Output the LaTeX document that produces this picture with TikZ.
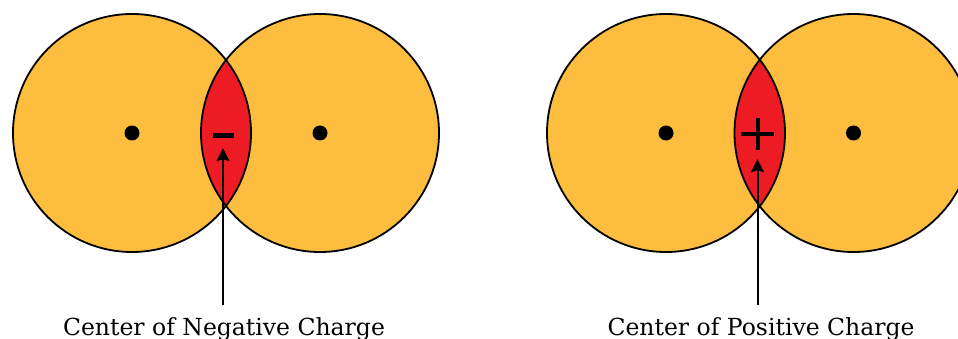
\documentclass[tikz,border=0pt]{standalone}
\usepackage{fontspec}
\setmainfont{DejaVu Serif}
\usetikzlibrary{arrows.meta,positioning}
\definecolor{atomyellow}{RGB}{253,190,64}
\definecolor{lensred}{RGB}{237,28,36}
\begin{document}
\begin{tikzpicture}[
    x=1pt, y=-1pt,
    atom/.style={circle, fill=atomyellow, minimum size=238pt, inner sep=0pt},
    rim/.style={draw, line width=1.8pt},
    nucleus/.style={circle, fill=black, minimum size=15pt, inner sep=0pt},
    sign/.style={inner sep=0pt},
    caption/.style={font=\fontsize{23.5}{28}\selectfont, inner sep=0pt, inner ysep=12pt, anchor=base},
    arrow/.style={-{Stealth[length=13pt,width=13pt,inset=2pt]}, line width=2pt},
    ]
    \useasboundingbox (0,0) rectangle (958,339);
    % left pair: negative center
    \node[atom] (atomA) at (132,133) {};
    \node[atom] (atomB) at (320,133) {};
    \begin{scope}
        \clip (atomA.center) circle (119pt);
        \fill[lensred] (atomB.center) circle (119pt);
    \end{scope}
    \draw[rim] (atomA.center) circle (119pt) (atomB.center) circle (119pt);
    \node[nucleus] at (atomA) {};
    \node[nucleus] at (atomB) {};
    \node[sign, fill=black, minimum width=21pt, minimum height=5pt]
    (minus) at (223,135.5) {};
    \node[caption] (negcap) at (224,335) {Center of Negative Charge};
    \draw[arrow, shorten >=10pt] (negcap.north -| minus) -- (minus.south);
    % right pair: positive center
    \node[atom] (atomC) at (666,133) {};
    \node[atom] (atomD) at (853.5,133) {};
    \begin{scope}
        \clip (atomC.center) circle (119pt);
        \fill[lensred] (atomD.center) circle (119pt);
    \end{scope}
    \draw[rim] (atomC.center) circle (119pt) (atomD.center) circle (119pt);
    \node[nucleus] at (atomC) {};
    \node[nucleus] at (atomD) {};
    \node[sign, minimum size=32pt] (plus) at (757.5,134) {};
    \draw[line width=4pt] (plus.north) -- (plus.south) (plus.west) -- (plus.east);
    \node[caption] (poscap) at (761,335) {Center of Positive Charge};
    \draw[arrow, shorten >=9pt] (poscap.north -| plus) -- (plus.south);
\end{tikzpicture}
\end{document}
